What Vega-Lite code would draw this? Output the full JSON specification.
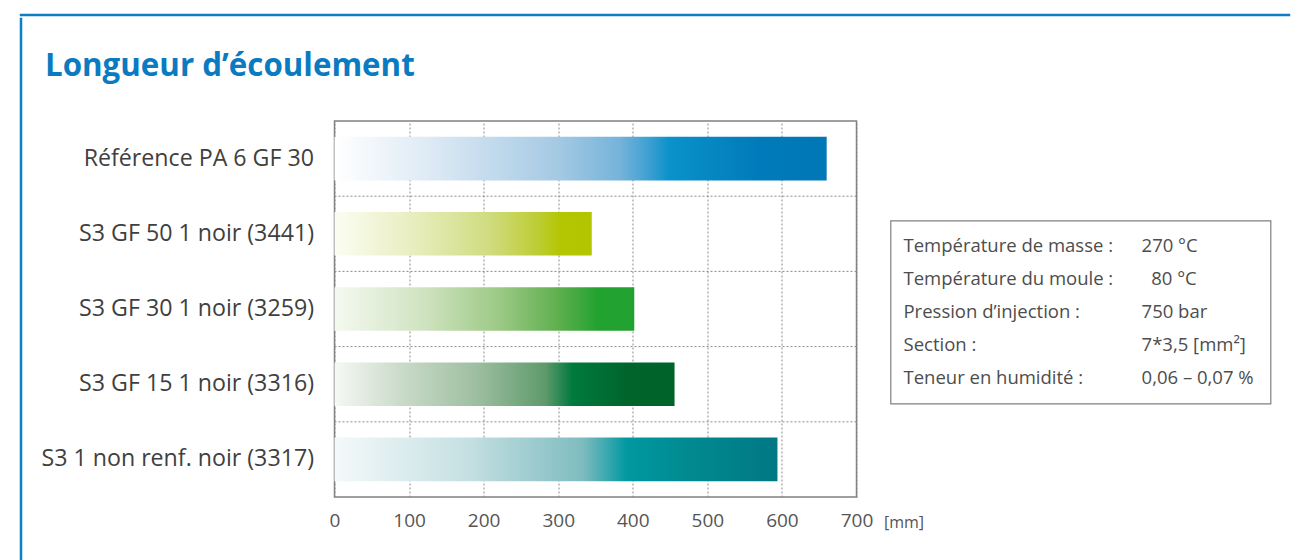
{
  "$schema": "https://vega.github.io/schema/vega-lite/v6.json",
  "background": "white",
  "padding": {"left": 19, "top": 13, "right": 0, "bottom": 0},
  "config": {"font": "Open Sans", "view": {"stroke": null}},
  "datasets": {
    "mesures": [
      {"materiau": "Référence PA 6 GF 30", "longueur": 660},
      {"materiau": "S3 GF 50 1 noir (3441)", "longueur": 345},
      {"materiau": "S3 GF 30 1 noir (3259)", "longueur": 402},
      {"materiau": "S3 GF 15 1 noir (3316)", "longueur": 456},
      {"materiau": "S3 1 non renf. noir (3317)", "longueur": 594}
    ],
    "conditions": [
      {"parametre": "Température de masse :", "valeur": "270 °C"},
      {"parametre": "Température du moule :", "valeur": "\u200b\u00a0\u00a080 °C"},
      {"parametre": "Pression d’injection :", "valeur": "750 bar"},
      {"parametre": "Section :", "valeur": "7*3,5 [mm²]"},
      {"parametre": "Teneur en humidité :", "valeur": "0,06 – 0,07 %"}
    ],
    "vide": []
  },
  "spacing": 0,
  "align": "none",
  "vconcat": [
    {
      "width": 1268, "height": 0.01,
      "data": {"name": "vide"},
      "mark": "point",
      "view": {"stroke": "#0b7fc5", "strokeWidth": 2.5}
    },
    {
      "spacing": 16.5,
      "align": "none",
      "hconcat": [
        {
          "width": 0.01, "height": 541,
          "data": {"name": "vide"},
          "mark": "point",
          "view": {"stroke": "#0b7fc5", "strokeWidth": 2.5}
        },
        {
          "spacing": 30,
          "align": "none",
          "vconcat": [
            {"width": 0.01, "height": 0.01, "data": {"name": "vide"}, "mark": "point"},
            {
              "spacing": 34,
              "bounds": "flush",
              "hconcat": [
                {
                  "width": 522,
                  "height": 376,
                  "title": {
                    "text": "Longueur d’écoulement",
                    "anchor": "start",
                    "frame": "bounds",
                    "dx": 4,
                    "offset": 38.5,
                    "font": "Open Sans",
                    "fontSize": 31.3,
                    "fontWeight": "bold",
                    "color": "#0a7bc0"
                  },
                  "view": {"stroke": "#808080", "strokeWidth": 1.5},
                  "data": {"name": "mesures"},
                  "encoding": {
                    "y": {
                      "field": "materiau",
                      "type": "nominal",
                      "sort": ["Référence PA 6 GF 30", "S3 GF 50 1 noir (3441)", "S3 GF 30 1 noir (3259)", "S3 GF 15 1 noir (3316)", "S3 1 non renf. noir (3317)"],
                      "scale": {"paddingInner": 0, "paddingOuter": 0},
                      "axis": {
                        "title": null,
                        "domain": false,
                        "ticks": false,
                        "grid": false,
                        "labelFontSize": 23.2,
                        "labelColor": "#404040",
                        "labelPadding": 21,
                        "labelLimit": 400
                      }
                    }
                  },
                  "layer": [
                    {
                      "transform": [{"filter": "datum.materiau !== 'Référence PA 6 GF 30'"}],
                      "mark": {"type": "rule", "color": "#8a8a8a", "strokeDash": [2, 2], "strokeWidth": 1},
                      "encoding": {
                        "y": {
                          "field": "materiau",
                          "type": "nominal",
                          "bandPosition": 0,
                          "sort": ["Référence PA 6 GF 30", "S3 GF 50 1 noir (3441)", "S3 GF 30 1 noir (3259)", "S3 GF 15 1 noir (3316)", "S3 1 non renf. noir (3317)"]
                        }
                      }
                    },
                    {
                      "transform": [{"filter": {"field": "materiau", "equal": "Référence PA 6 GF 30"}}],
                      "mark": {
                        "type": "bar",
                        "height": {"band": 0.58},
                        "color": {
                          "gradient": "linear", "x1": 0, "x2": 1, "y1": 0, "y2": 0,
                          "stops": [
                            {"offset": 0, "color": "#ffffff"},
                            {"offset": 0.2, "color": "#dce9f4"},
                            {"offset": 0.45, "color": "#a6cae4"},
                            {"offset": 0.58, "color": "#75b3da"},
                            {"offset": 0.64, "color": "#3c9fd2"},
                            {"offset": 0.68, "color": "#0a92c9"},
                            {"offset": 0.86, "color": "#007bba"},
                            {"offset": 1, "color": "#0077b7"}
                          ]
                        }
                      },
                      "encoding": {
                        "x": {
                          "field": "longueur", "type": "quantitative",
                          "scale": {"domain": [0, 700], "nice": false},
                          "axis": {
                            "values": [0, 100, 200, 300, 400, 500, 600, 700],
                            "grid": true, "gridDash": [2, 2], "gridColor": "#8a8a8a", "gridWidth": 1,
                            "domain": false, "ticks": false,
                            "labelFlush": false,
                            "labelFontSize": 19, "labelColor": "#555555", "labelPadding": 14,
                            "title": "[mm]", "titleFontSize": 16, "titleFontWeight": "normal", "titleColor": "#555555",
                            "titleX": 549, "titleY": 25, "titleAlign": "left", "titleBaseline": "middle", "titleAnchor": null
                          }
                        }
                      }
                    },
                    {
                      "transform": [{"filter": {"field": "materiau", "equal": "S3 GF 50 1 noir (3441)"}}],
                      "mark": {
                        "type": "bar",
                        "height": {"band": 0.58},
                        "color": {
                          "gradient": "linear", "x1": 0, "x2": 1, "y1": 0, "y2": 0,
                          "stops": [
                            {"offset": 0, "color": "#fcfdf3"},
                            {"offset": 0.3, "color": "#e8eec0"},
                            {"offset": 0.6, "color": "#d0dc80"},
                            {"offset": 0.8, "color": "#bccc2f"},
                            {"offset": 0.88, "color": "#b3c600"},
                            {"offset": 1, "color": "#b4c500"}
                          ]
                        }
                      },
                      "encoding": {"x": {"field": "longueur", "type": "quantitative"}}
                    },
                    {
                      "transform": [{"filter": {"field": "materiau", "equal": "S3 GF 30 1 noir (3259)"}}],
                      "mark": {
                        "type": "bar",
                        "height": {"band": 0.58},
                        "color": {
                          "gradient": "linear", "x1": 0, "x2": 1, "y1": 0, "y2": 0,
                          "stops": [
                            {"offset": 0, "color": "#f5f9f1"},
                            {"offset": 0.3, "color": "#cfe3c0"},
                            {"offset": 0.55, "color": "#9cc985"},
                            {"offset": 0.75, "color": "#5daf4e"},
                            {"offset": 0.88, "color": "#22a22f"},
                            {"offset": 1, "color": "#21a12f"}
                          ]
                        }
                      },
                      "encoding": {"x": {"field": "longueur", "type": "quantitative"}}
                    },
                    {
                      "transform": [{"filter": {"field": "materiau", "equal": "S3 GF 15 1 noir (3316)"}}],
                      "mark": {
                        "type": "bar",
                        "height": {"band": 0.58},
                        "color": {
                          "gradient": "linear", "x1": 0, "x2": 1, "y1": 0, "y2": 0,
                          "stops": [
                            {"offset": 0, "color": "#f6f8f4"},
                            {"offset": 0.2, "color": "#c9dac8"},
                            {"offset": 0.42, "color": "#9dbea0"},
                            {"offset": 0.62, "color": "#5e9a6b"},
                            {"offset": 0.7, "color": "#007a3e"},
                            {"offset": 0.86, "color": "#00652b"},
                            {"offset": 1, "color": "#00632a"}
                          ]
                        }
                      },
                      "encoding": {"x": {"field": "longueur", "type": "quantitative"}}
                    },
                    {
                      "transform": [{"filter": {"field": "materiau", "equal": "S3 1 non renf. noir (3317)"}}],
                      "mark": {
                        "type": "bar",
                        "height": {"band": 0.58},
                        "color": {
                          "gradient": "linear", "x1": 0, "x2": 1, "y1": 0, "y2": 0,
                          "stops": [
                            {"offset": 0, "color": "#f4f9fa"},
                            {"offset": 0.3, "color": "#c5e0e2"},
                            {"offset": 0.56, "color": "#7fbcc0"},
                            {"offset": 0.66, "color": "#0098a0"},
                            {"offset": 0.8, "color": "#008a90"},
                            {"offset": 1, "color": "#007883"}
                          ]
                        }
                      },
                      "encoding": {"x": {"field": "longueur", "type": "quantitative"}}
                    }
                  ]
                },
                {
                  "spacing": 97.5,
                  "align": "none",
                  "vconcat": [
                    {"width": 0.01, "height": 0.01, "data": {"name": "vide"}, "mark": "point"},
                    {
                      "width": 380,
                      "height": 183,
                      "view": {"stroke": "#808080", "strokeWidth": 1.2},
                      "data": {"name": "conditions"},
                      "transform": [{"fold": ["parametre", "valeur"], "as": ["colonne", "texte"]}],
                      "mark": {"type": "text", "align": "left", "baseline": "middle", "fontSize": 18.5, "color": "#4d4d4d", "font": "Open Sans"},
                      "encoding": {
                        "x": {
                          "field": "colonne", "type": "nominal",
                          "scale": {"type": "point", "domain": ["parametre", "valeur"], "padding": 0.298, "align": 0.0915},
                          "axis": null
                        },
                        "y": {
                          "field": "parametre", "type": "nominal", "sort": null,
                          "scale": {"type": "point", "padding": 0.76},
                          "axis": null
                        },
                        "text": {"field": "texte"}
                      }
                    }
                  ]
                }
              ]
            }
          ]
        }
      ]
    }
  ]
}
